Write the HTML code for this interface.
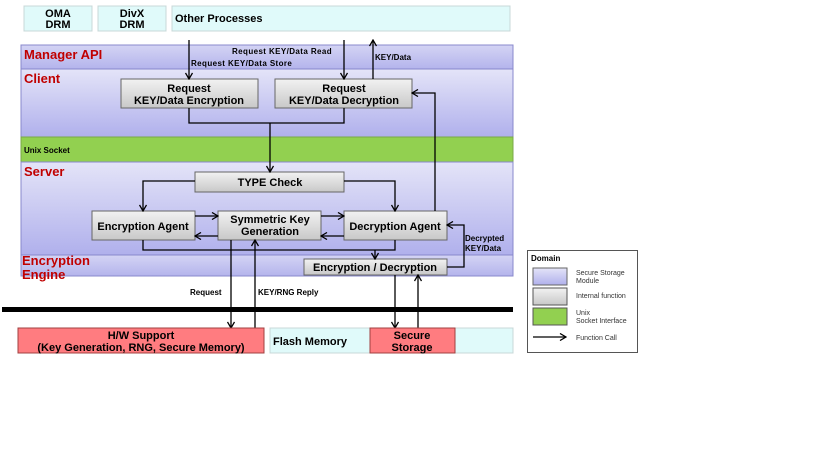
<!DOCTYPE html>
<html><head><meta charset="utf-8"><style>
html,body{margin:0;padding:0;background:#fff}
svg{display:block}
text{font-family:"Liberation Sans",sans-serif;font-weight:bold}
text.n{font-weight:normal}
</style></head><body>
<svg width="819" height="460" viewBox="0 0 819 460" xmlns="http://www.w3.org/2000/svg">
<defs>
<linearGradient id="gb" x1="0" y1="0" x2="0" y2="1"><stop offset="0" stop-color="#f2f2f2"/><stop offset="1" stop-color="#c8c8c8"/></linearGradient>
<linearGradient id="lav" x1="0" y1="0" x2="0" y2="1"><stop offset="0" stop-color="#e4e4f8"/><stop offset="1" stop-color="#b0b0ec"/></linearGradient>
<linearGradient id="lav2" x1="0" y1="0" x2="0" y2="1"><stop offset="0" stop-color="#d4d4f4"/><stop offset="1" stop-color="#b4b4ec"/></linearGradient>
<marker id="a" markerWidth="8" markerHeight="8" refX="7" refY="4" orient="auto" markerUnits="userSpaceOnUse"><path d="M1,0.5 L7,4 L1,7.5" fill="none" stroke="#000" stroke-width="1.3"/></marker>
</defs>
<g stroke="#c8d8d8" fill="#e0fafa">
<rect x="24" y="6" width="68" height="25"/><rect x="98" y="6" width="68" height="25"/><rect x="172" y="6" width="338" height="25"/>
</g>
<g font-size="11" text-anchor="middle"><text x="58" y="17">OMA</text><text x="58" y="28">DRM</text><text x="132" y="17">DivX</text><text x="132" y="28">DRM</text></g>
<text x="175" y="22" font-size="11">Other Processes</text>
<rect x="21" y="45" width="492" height="24" fill="url(#lav2)" stroke="#8888cc"/>
<rect x="21" y="69" width="492" height="68" fill="url(#lav)" stroke="#8888cc"/>
<rect x="21" y="137" width="492" height="25" fill="#92d050" stroke="#7aa848"/>
<rect x="21" y="162" width="492" height="93" fill="url(#lav)" stroke="#8888cc"/>
<rect x="21" y="255" width="492" height="21" fill="url(#lav2)" stroke="#8888cc"/>
<g fill="#c00000" font-size="13"><text x="24" y="59">Manager API</text><text x="24" y="83">Client</text><text x="24" y="176">Server</text><text x="22" y="265">Encryption</text><text x="22" y="279">Engine</text></g>
<text x="24" y="153" font-size="8">Unix  Socket</text>
<g fill="url(#gb)" stroke="#666">
<rect x="121" y="79" width="137" height="29"/><rect x="275" y="79" width="137" height="29"/>
<rect x="195" y="172" width="149" height="20"/>
<rect x="92" y="211" width="103" height="29"/><rect x="218" y="211" width="103" height="29"/><rect x="344" y="211" width="103" height="29"/>
<rect x="304" y="259" width="143" height="16"/>
</g>
<g font-size="11" text-anchor="middle">
<text x="189" y="92">Request</text><text x="189" y="104">KEY/Data Encryption</text>
<text x="344" y="92">Request</text><text x="344" y="104">KEY/Data Decryption</text>
<text x="270" y="186">TYPE Check</text>
<text x="143" y="230">Encryption Agent</text>
<text x="270" y="223">Symmetric Key</text><text x="270" y="235">Generation</text>
<text x="395" y="230">Decryption Agent</text>
<text x="375" y="271">Encryption / Decryption</text>
</g>
<g font-size="8"><text x="232" y="54" letter-spacing="0.4">Request  KEY/Data  Read</text><text x="191" y="66" letter-spacing="0.4">Request  KEY/Data  Store</text><text x="375" y="60">KEY/Data</text>
<text x="465" y="241">Decrypted</text><text x="465" y="251">KEY/Data</text>
<text x="190" y="295">Request</text><text x="258" y="295">KEY/RNG Reply</text></g>
<g stroke="#000" stroke-width="1.3" fill="none">
<path d="M189 40 V79" marker-end="url(#a)"/>
<path d="M344 40 V79" marker-end="url(#a)"/>
<path d="M373 79 V40" marker-end="url(#a)"/>
<path d="M189 108 V123 H344 V108"/>
<path d="M270 123 V172" marker-end="url(#a)"/>
<path d="M435 211 V93 H412" marker-end="url(#a)"/>
<path d="M195 181 H143 V211" marker-end="url(#a)"/>
<path d="M344 181 H395 V211" marker-end="url(#a)"/>
<path d="M195 216 H218" marker-end="url(#a)"/>
<path d="M218 236 H195" marker-end="url(#a)"/>
<path d="M321 216 H344" marker-end="url(#a)"/>
<path d="M344 236 H321" marker-end="url(#a)"/>
<path d="M143 240 V250 H395 V240"/>
<path d="M375 250 V259" marker-end="url(#a)"/>
<path d="M447 267 H464 V225 H447" marker-end="url(#a)"/>
<path d="M231 240 V328" marker-end="url(#a)"/>
<path d="M255 328 V240" marker-end="url(#a)"/>
<path d="M395 275 V328" marker-end="url(#a)"/>
<path d="M418 328 V275" marker-end="url(#a)"/>
</g>
<rect x="2" y="307" width="511" height="5" fill="#000"/>
<rect x="18" y="328" width="246" height="25" fill="#ff7c80" stroke="#a04040"/>
<text x="141" y="339" font-size="11" text-anchor="middle">H/W Support</text>
<text x="141" y="351" font-size="11" text-anchor="middle">(Key Generation, RNG, Secure Memory)</text>
<rect x="270" y="328" width="243" height="25" fill="#e0fafa" stroke="#c8d8d8"/>
<text x="273" y="345" font-size="11">Flash Memory</text>
<rect x="370" y="328" width="85" height="25" fill="#ff7c80" stroke="#a04040"/>
<text x="412" y="339" font-size="11" text-anchor="middle">Secure</text><text x="412" y="351" font-size="11" text-anchor="middle">Storage</text>
<rect x="527.5" y="250.5" width="110" height="102" fill="#fff" stroke="#555"/>
<text x="531" y="261" font-size="8">Domain</text>
<rect x="533" y="268" width="34" height="17" fill="url(#lav)" stroke="#666"/>
<rect x="533" y="288" width="34" height="17" fill="url(#gb)" stroke="#555"/>
<rect x="533" y="308" width="34" height="17" fill="#92d050" stroke="#555"/>
<path d="M533 337 H566" stroke="#000" stroke-width="1.3" marker-end="url(#a)"/>
<g font-size="7" fill="#333"><text class="n" x="576" y="275">Secure Storage</text><text class="n" x="576" y="283">Module</text>
<text class="n" x="576" y="298">Internal function</text>
<text class="n" x="576" y="315">Unix</text><text class="n" x="576" y="323">Socket Interface</text>
<text class="n" x="576" y="340">Function Call</text></g>
</svg>
</body></html>
